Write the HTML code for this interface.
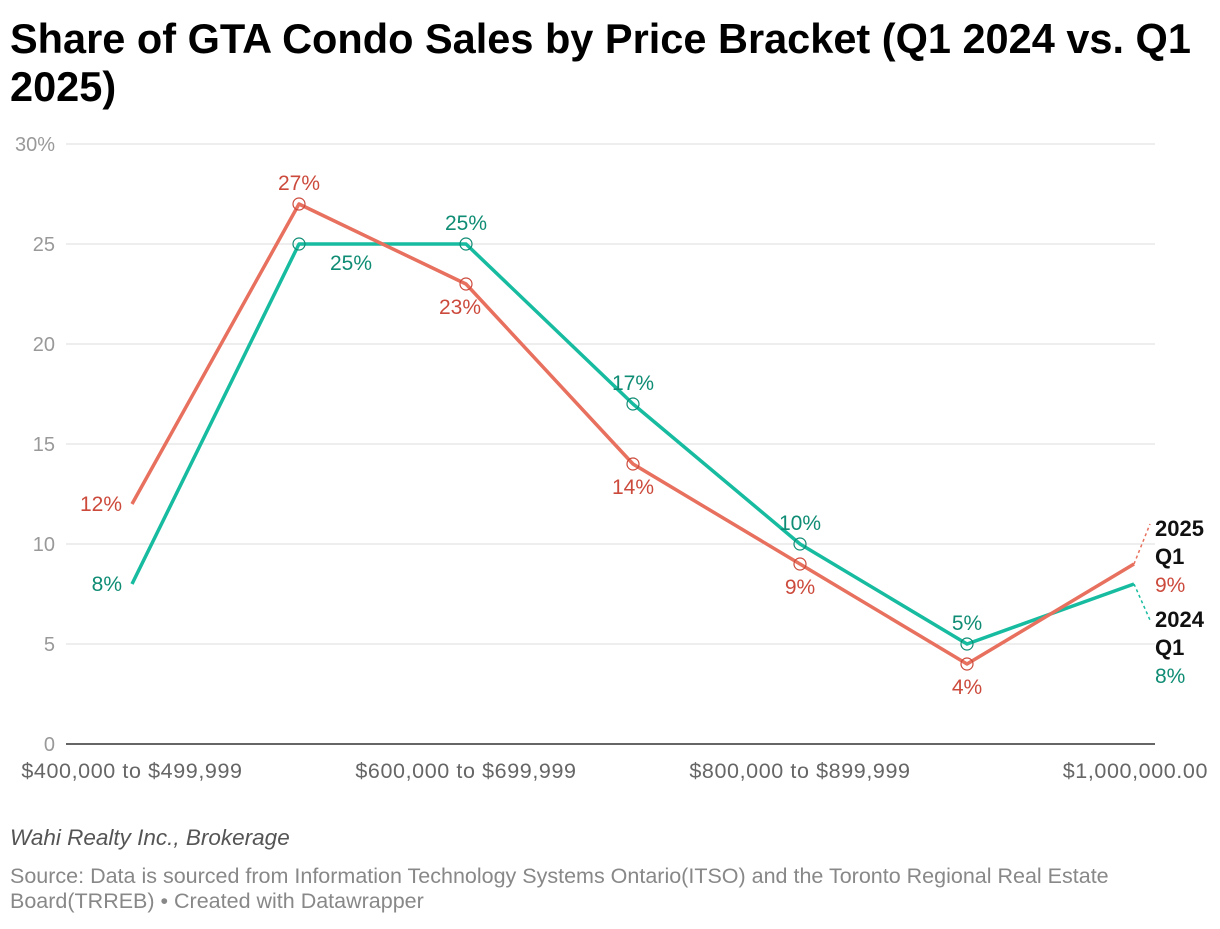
<!DOCTYPE html>
<html><head><meta charset="utf-8">
<style>
body{margin:0;background:#fff;font-family:"Liberation Sans",sans-serif;}
svg text{font-family:"Liberation Sans",sans-serif;}
</style></head>
<body>
<svg width="1220" height="924" xmlns="http://www.w3.org/2000/svg">
<text x="10" y="53" font-size="41.5" font-weight="bold" fill="#000">Share of GTA Condo Sales by Price Bracket (Q1 2024 vs. Q1</text>
<text x="10" y="101" font-size="41.5" font-weight="bold" fill="#000">2025)</text>
<g id="grid"></g>
<g id="series"></g>
<text x="10" y="845" font-size="22.5" font-style="italic" fill="#555">Wahi Realty Inc., Brokerage</text>
<text x="10" y="883" font-size="21.5" fill="#888">Source: Data is sourced from Information Technology Systems Ontario(ITSO) and the Toronto Regional Real Estate</text>
<text x="10" y="908" font-size="21.5" fill="#888">Board(TRREB) • Created with Datawrapper</text>
</svg>
<script>
const categories=["$400,000 to $499,999","$500,000 to $599,999","$600,000 to $699,999","$700,000 to $799,999","$800,000 to $899,999","$900,000 to $999,999","$1,000,000.00"];
const series2025=[12,27,23,14,9,4,9];
const series2024=[8,25,25,17,10,5,8];
const yTicks=[0,5,10,15,20,25,30];
const yTickLabels=["0","5","10","15","20","25","30%"];
const pos2025=["left","above","below","below","below","below",null];
const pos2024=["left","belowright","above","above","above","above",null];

const NS="http://www.w3.org/2000/svg";
const x=i=>132+i*(1134-132)/(categories.length-1);
const y=v=>744-v*20;
function mk(tag,attrs,parent,text){const e=document.createElementNS(NS,tag);for(const k in attrs)e.setAttribute(k,attrs[k]);if(text!==undefined)e.textContent=text;parent.appendChild(e);return e;}
const grid=document.getElementById('grid'),ser=document.getElementById('series');
yTicks.forEach((t,i)=>{
  const l=mk('line',{x1:66,x2:1155,y1:y(t),y2:y(t),stroke:t===0?'#333':'#ddd','stroke-width':t===0?1.5:1},grid);
  
  
  const tx=mk('text',{x:55,y:y(t)+7,'font-size':20,fill:'#999','text-anchor':'end'},grid,yTickLabels[i]);
  
  
});
categories.forEach((c,i)=>{
  if(i%2)return;
  const last=i===categories.length-1;
  const tx=mk('text',{x:last?1208:x(i),y:778,'font-size':21.5,fill:'#666','letter-spacing':0.6,'text-anchor':last?'end':'middle'},grid,c);
  
  
});
function draw(vals,color,lblColor,pos,name){
  const p=mk('polyline',{points:vals.map((v,i)=>x(i)+','+y(v)).join(' '),fill:'none',stroke:color,'stroke-width':3.5,'stroke-linejoin':'round'},ser);
  
  
  vals.forEach((v,i)=>{
    if(i>0&&i<vals.length-1){
      const c=mk('circle',{cx:x(i),cy:y(v),r:6,fill:'none',stroke:lblColor,'stroke-width':1.2},ser);
      
      
    }
    const ps=pos[i];if(!ps)return;
    let lx=x(i),ly=y(v),a='middle';
    if(ps==='left'){lx-=10;ly+=7;a='end';}
    else if(ps==='above'){ly-=14;}
    else if(ps==='below'){ly+=30;if(i===2)lx-=6;}
    else if(ps==='belowright'){lx+=52;ly+=26;}
    const t=mk('text',{x:lx,y:ly,'font-size':21,fill:lblColor,'text-anchor':a},ser,v+'%');
    
    
  });
}
draw(series2024,'#17bca0','#0f8c74',pos2024,'series-2024');
draw(series2025,'#e8705e','#cc4a3c',pos2025,'series-2025');
const n=categories.length-1;
const e1=mk('line',{x1:x(n),y1:y(series2025[n]),x2:1150,y2:y(series2025[n])-40,stroke:'#e8705e','stroke-width':1.5,'stroke-dasharray':'3,3'},ser);


const e2=mk('line',{x1:x(n),y1:y(series2024[n]),x2:1150,y2:y(series2024[n])+36,stroke:'#17bca0','stroke-width':1.5,'stroke-dasharray':'3,3'},ser);


function endLbl(yy,yr,val,col,name){
  const a=mk('text',{x:1155,y:yy,'font-size':22,'font-weight':'bold',fill:'#111'},ser,yr);
  
  
  const b=mk('text',{x:1155,y:yy+28,'font-size':22,'font-weight':'bold',fill:'#111'},ser,'Q1');
  
  
  const c=mk('text',{x:1155,y:yy+56,'font-size':21,fill:col},ser,val+'%');
  
  
}
endLbl(y(series2025[n])-28,'2025',series2025[n],'#cc4a3c','series-2025');
endLbl(y(series2024[n])+43,'2024',series2024[n],'#0f8c74','series-2024');
</script>
</body></html>
